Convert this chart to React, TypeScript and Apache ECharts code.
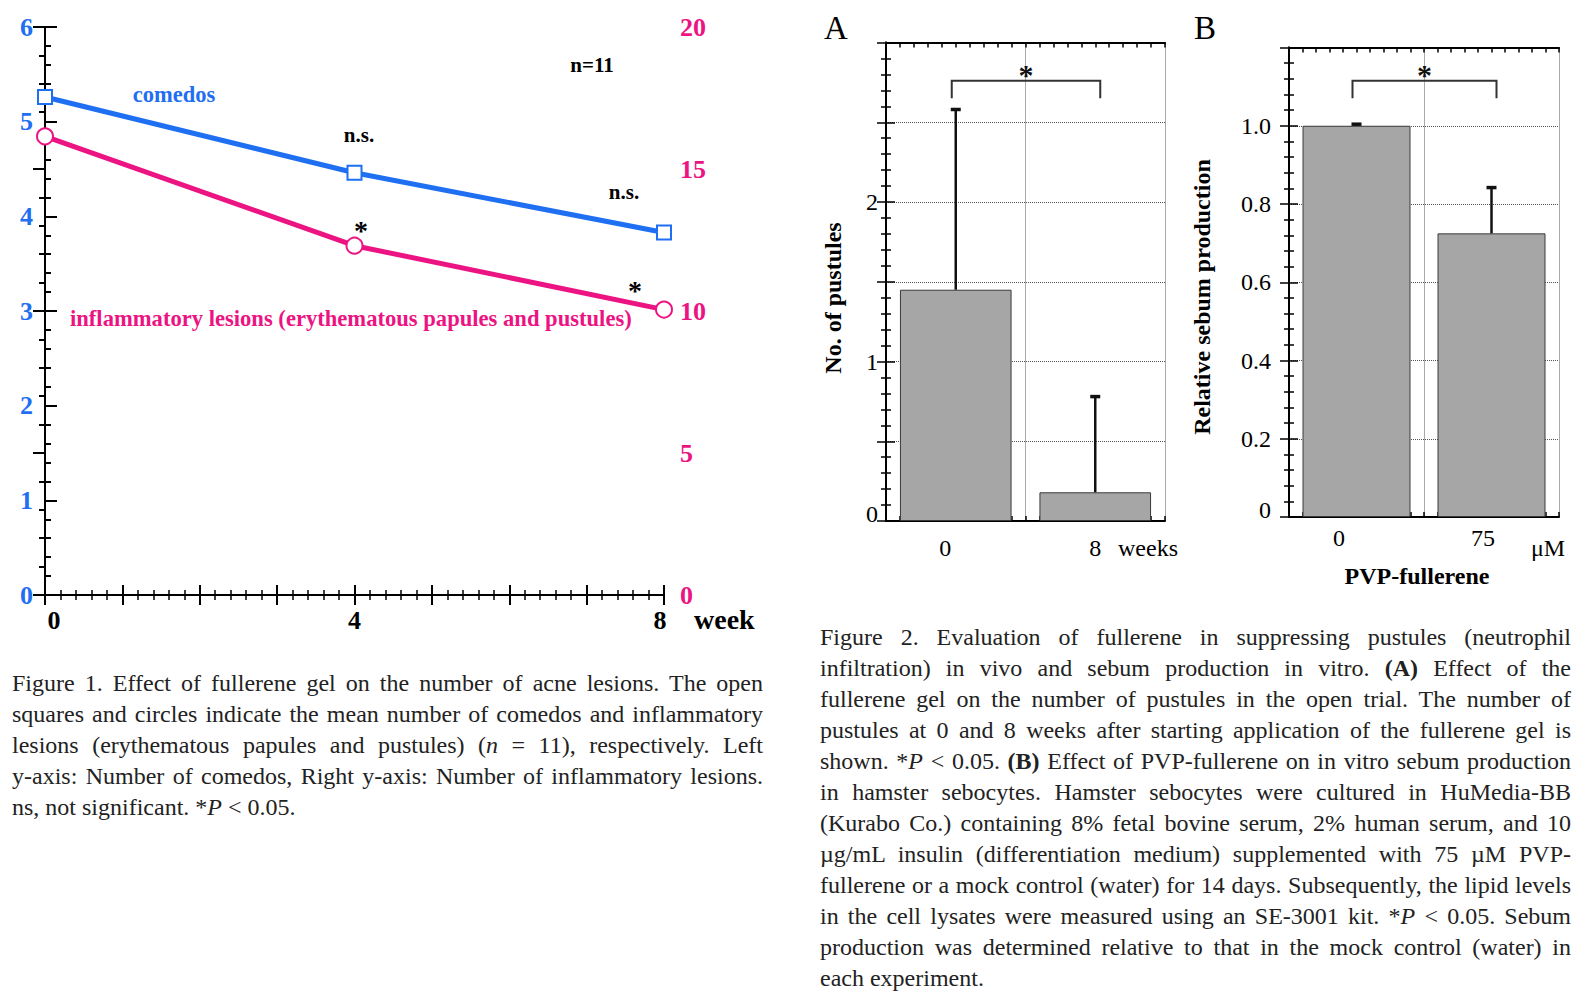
import React, { useEffect, useRef } from "react";
import * as echarts from "echarts";

// ---------- Figure 1 data ----------
const weeks = [0, 4, 8];
const comedoCounts = [5.26, 4.46, 3.83];
const inflammatoryCounts = [16.15, 12.3, 10.05];
const weekTickLabels = [0, 4, 8];

// ---------- Figure 2A data ----------
const pustuleWeeks = ["0", "8"];
const pustuleMeans = [1.45, 0.18];
const pustuleErrTops = [2.58, 0.78];
const pustuleBracket = [2.76, 2.65];

// ---------- Figure 2B data ----------
const sebumDoses = ["0", "75"];
const sebumMeans = [1.0, 0.725];
const sebumErrTops = [1.004, 0.842];
const sebumBracket = [1.115, 1.07];

// ---------- captions ----------
const caption1 = [
  "Figure 1. Effect of fullerene gel on the number of acne lesions. The open",
  "squares and circles indicate the mean number of comedos and inflammatory",
  "lesions (erythematous papules and pustules) ({i:n} = 11), respectively. Left",
  "y-axis: Number of comedos, Right y-axis: Number of inflammatory lesions.",
  "ns, not significant. *{i:P} < 0.05.",
];
const caption2 = [
  "Figure 2. Evaluation of fullerene in suppressing pustules (neutrophil",
  "infiltration) in vivo and sebum production in vitro. {b:(A)} Effect of the",
  "fullerene gel on the number of pustules in the open trial. The number of",
  "pustules at 0 and 8 weeks after starting application of the fullerene gel is",
  "shown. *{i:P} < 0.05. {b:(B)} Effect of PVP-fullerene on in vitro sebum production",
  "in hamster sebocytes. Hamster sebocytes were cultured in HuMedia-BB",
  "(Kurabo Co.) containing 8% fetal bovine serum, 2% human serum, and 10",
  "\u00b5g/mL insulin (differentiation medium) supplemented with 75 \u00b5M PVP-",
  "fullerene or a mock control (water) for 14 days. Subsequently, the lipid levels",
  "in the cell lysates were measured using an SE-3001 kit. *{i:P} < 0.05. Sebum",
  "production was determined relative to that in the mock control (water) in",
  "each experiment.",
];

const SERIF = "'Liberation Serif', 'Times New Roman', serif";
const BLUE = "#1f6ff2";
const PINK = "#ec1482";
const BLACK = "#000";

const frameLine = { show: true, lineStyle: { color: BLACK, width: 2 } };

function ticks(len: number, width: number) {
  return { show: true, inside: true, length: len, lineStyle: { color: BLACK, width } };
}
function minor(len: number, width: number) {
  return { show: true, splitNumber: 5, length: len, lineStyle: { color: BLACK, width } };
}

function txt(text: string, x: number, y: number, o: any = {}) {
  const align = o.align ?? "center";
  return {
    type: "text",
    x,
    y,
    rotation: o.rot ?? 0,
    silent: true,
    style: {
      text,
      fill: o.fill ?? BLACK,
      fontSize: o.size ?? 24,
      fontFamily: SERIF,
      fontWeight: o.bold ? "bold" : "normal",
      align,
      verticalAlign: "middle",
      textAlign: align,
      textVerticalAlign: "middle",
    },
  };
}

function tickAxis(gridIndex: number, position: string, max: number, showLine: boolean) {
  return {
    gridIndex,
    type: "value",
    position,
    min: 0,
    max,
    interval: 1,
    axisLine: { show: showLine, lineStyle: { color: BLACK, width: 2 } },
    axisTick: ticks(5, 1.5),
    axisLabel: { show: false },
    splitLine: { show: false },
  };
}

function errRender(params: any, api: any) {
  const base = api.coord([api.value(0), api.value(1)]);
  const top = api.coord([api.value(0), api.value(2)]);
  return {
    type: "group",
    children: [
      { type: "line", shape: { x1: base[0], y1: base[1], x2: top[0], y2: top[1] }, style: { stroke: "#111", lineWidth: 2.5 } },
      { type: "line", shape: { x1: top[0] - 5, y1: top[1], x2: top[0] + 5, y2: top[1] }, style: { stroke: "#111", lineWidth: 3.5 } },
    ],
  };
}

function bracketRender(params: any, api: any) {
  const a = api.coord([api.value(0), api.value(2)]);
  const b = api.coord([api.value(1), api.value(2)]);
  const d = api.coord([api.value(0), api.value(3)]);
  const x0 = a[0] - 4;
  const x1 = b[0] + 5;
  const y = a[1];
  const yd = d[1];
  return {
    type: "group",
    children: [
      { type: "polyline", shape: { points: [[x0, yd], [x0, y], [x1, y], [x1, yd]] }, style: { stroke: "#333", lineWidth: 2, fill: "none" } },
      {
        type: "text",
        x: (x0 + x1) / 2,
        y: y - 6,
        style: { text: "*", fontSize: 30, fontWeight: "bold", fontFamily: SERIF, fill: "#111", align: "center", verticalAlign: "middle" },
      },
    ],
  };
}

function Caption({ lines, left, top, width }: any) {
  return (
    <div style={{ position: "absolute", left, top, width, fontFamily: SERIF, fontSize: 24, lineHeight: "31px", color: "#222" }}>
      {lines.map((line: string, li: number) => {
        const parts: any[] = [];
        const re = /\{([ib]):([^}]*)\}/g;
        let last = 0;
        let m: any;
        let k = 0;
        while ((m = re.exec(line))) {
          if (m.index > last) parts.push(<span key={k++}>{line.slice(last, m.index)}</span>);
          parts.push(m[1] === "i" ? <i key={k++}>{m[2]}</i> : <b key={k++}>{m[2]}</b>);
          last = m.index + m[0].length;
        }
        if (last < line.length) parts.push(<span key={k++}>{line.slice(last)}</span>);
        const isLast = li === lines.length - 1;
        return (
          <div key={li} style={{ height: 31, textAlign: isLast ? "left" : "justify", textAlignLast: isLast ? "left" : "justify" } as any}>
            {parts}
          </div>
        );
      })}
    </div>
  );
}

export default function App() {
  const ref = useRef<HTMLDivElement>(null);

  useEffect(() => {
    if (!ref.current) return;
    const chart = echarts.init(ref.current, null, { renderer: "svg" });
    const option: any = {
      animation: false,
      backgroundColor: "#fff",
      grid: [
        { left: 45, top: 27, width: 619, height: 568 },
        { left: 886, top: 42.5, width: 279, height: 478.5 },
        { left: 1289, top: 47.5, width: 270, height: 469.5 },
      ],
      xAxis: [
        {
          gridIndex: 0,
          type: "value",
          position: "bottom",
          min: 0,
          max: 8,
          interval: 1,
          axisLine: frameLine,
          axisTick: ticks(10, 2),
          minorTick: minor(5, 1.5),
          splitLine: { show: false },
          axisLabel: {
            show: true,
            margin: 12,
            showMinLabel: true,
            showMaxLabel: true,
            hideOverlap: false,
            fontFamily: SERIF,
            fontWeight: "bold",
            fontSize: 26,
            color: BLACK,
            formatter: (v: number) =>
              weekTickLabels.includes(v) ? (v === 0 ? "{z|0}" : v === 8 ? "{e|8}" : String(v)) : "",
            rich: {
              z: { fontFamily: SERIF, fontWeight: "bold", fontSize: 26, color: BLACK, padding: [0, 0, 0, 18] },
              e: { fontFamily: SERIF, fontWeight: "bold", fontSize: 26, color: BLACK, padding: [0, 8, 0, 0] },
            },
          },
        },
        {
          gridIndex: 0,
          type: "value",
          position: "top",
          min: 0,
          max: 8,
          interval: 1,
          axisLine: frameLine,
          axisTick: ticks(10, 2),
          minorTick: minor(5, 1.5),
          splitLine: { show: false },
          axisLabel: { show: false },
        },
        // Fig 2A
        {
          gridIndex: 1,
          type: "category",
          data: pustuleWeeks,
          boundaryGap: true,
          axisLine: frameLine,
          axisTick: { show: false },
          splitLine: { show: true, lineStyle: { type: "dotted", color: "#555", width: 1 } },
          axisLabel: {
            margin: 15,
            fontFamily: SERIF,
            fontSize: 24,
            color: BLACK,
            formatter: (v: string, i: number) => `{c${i}|${v}}`,
            rich: {
              c0: { fontFamily: SERIF, fontSize: 24, color: BLACK, padding: [0, 21, 0, 0] },
              c1: { fontFamily: SERIF, fontSize: 24, color: BLACK },
            },
          },
        },
        tickAxis(1, "bottom", 20, false),
        tickAxis(1, "top", 20, true),
        // Fig 2B
        {
          gridIndex: 2,
          type: "category",
          data: sebumDoses,
          boundaryGap: true,
          axisLine: frameLine,
          axisTick: { show: false },
          splitLine: { show: true, lineStyle: { type: "dotted", color: "#555", width: 1 } },
          axisLabel: {
            margin: 9,
            fontFamily: SERIF,
            fontSize: 24,
            color: BLACK,
            formatter: (v: string, i: number) => `{c${i}|${v}}`,
            rich: {
              c0: { fontFamily: SERIF, fontSize: 24, color: BLACK, padding: [0, 35, 0, 0] },
              c1: { fontFamily: SERIF, fontSize: 24, color: BLACK, padding: [0, 17, 0, 0] },
            },
          },
        },
        tickAxis(2, "bottom", 20, false),
        tickAxis(2, "top", 20, true),
      ],
      yAxis: [
        {
          gridIndex: 0,
          type: "value",
          position: "left",
          min: 0,
          max: 6,
          interval: 1,
          axisLine: frameLine,
          axisTick: ticks(12, 2),
          minorTick: minor(6, 2),
          splitLine: { show: false },
          axisLabel: { color: BLUE, fontWeight: "bold", fontSize: 26, fontFamily: SERIF, margin: 12 },
        },
        {
          gridIndex: 0,
          type: "value",
          position: "right",
          min: 0,
          max: 20,
          interval: 5,
          axisLine: frameLine,
          axisTick: ticks(12, 2),
          minorTick: minor(6, 2),
          splitLine: { show: false },
          axisLabel: { color: PINK, fontWeight: "bold", fontSize: 26, fontFamily: SERIF, margin: 16 },
        },
        // Fig 2A
        {
          gridIndex: 1,
          type: "value",
          position: "left",
          min: 0,
          max: 3,
          interval: 0.5,
          axisLine: frameLine,
          axisTick: ticks(9, 1.5),
          minorTick: minor(5, 1.5),
          splitLine: { show: true, lineStyle: { type: "dotted", color: "#555", width: 1 } },
          axisLabel: {
            margin: 8,
            fontFamily: SERIF,
            fontSize: 24,
            color: BLACK,
            showMinLabel: true,
            formatter: (v: number) => (v === 0 ? "{z|0}" : v === 1 || v === 2 ? String(v) : ""),
            rich: { z: { fontFamily: SERIF, fontSize: 24, color: BLACK, padding: [0, 0, 14, 0] } },
          },
        },
        {
          gridIndex: 1,
          type: "value",
          position: "right",
          min: 0,
          max: 3,
          interval: 0.5,
          axisLine: frameLine,
          axisTick: ticks(9, 1.5),
          minorTick: minor(5, 1.5),
          splitLine: { show: false },
          axisLabel: { show: false },
        },
        // Fig 2B
        {
          gridIndex: 2,
          type: "value",
          position: "left",
          min: 0,
          max: 1.2,
          interval: 0.2,
          axisLine: frameLine,
          axisTick: ticks(9, 1.5),
          minorTick: minor(5, 1.5),
          splitLine: { show: true, lineStyle: { type: "dotted", color: "#555", width: 1 } },
          axisLabel: {
            margin: 18,
            fontFamily: SERIF,
            fontSize: 24,
            color: BLACK,
            showMinLabel: true,
            formatter: (v: number) => (v === 0 ? "{z|0}" : v > 1.1 ? "" : v.toFixed(1)),
            rich: { z: { fontFamily: SERIF, fontSize: 24, color: BLACK, padding: [0, 0, 14, 0] } },
          },
        },
        {
          gridIndex: 2,
          type: "value",
          position: "right",
          min: 0,
          max: 1.2,
          interval: 0.2,
          axisLine: frameLine,
          axisTick: ticks(9, 1.5),
          minorTick: minor(5, 1.5),
          splitLine: { show: false },
          axisLabel: { show: false },
        },
      ],
      series: [
        {
          type: "line",
          xAxisIndex: 0,
          yAxisIndex: 0,
          data: weeks.map((w, i) => [w, comedoCounts[i]]),
          symbol: "rect",
          symbolSize: 14,
          clip: false,
          lineStyle: { color: BLUE, width: 5 },
          itemStyle: { color: "#fff", borderColor: BLUE, borderWidth: 2 },
          z: 5,
        },
        {
          type: "line",
          xAxisIndex: 0,
          yAxisIndex: 1,
          data: weeks.map((w, i) => [w, inflammatoryCounts[i]]),
          symbol: "circle",
          symbolSize: 16,
          clip: false,
          lineStyle: { color: PINK, width: 5 },
          itemStyle: { color: "#fff", borderColor: PINK, borderWidth: 2 },
          z: 5,
        },
        {
          type: "bar",
          xAxisIndex: 2,
          yAxisIndex: 2,
          data: pustuleMeans,
          barWidth: "80%",
          itemStyle: { color: "#a6a6a6", borderColor: "#3a3a3a", borderWidth: 1 },
        },
        {
          type: "custom",
          xAxisIndex: 2,
          yAxisIndex: 2,
          data: pustuleMeans.map((m, i) => [i, m, pustuleErrTops[i]]),
          renderItem: errRender,
          z: 6,
        },
        {
          type: "custom",
          xAxisIndex: 2,
          yAxisIndex: 2,
          data: [[0, 1, pustuleBracket[0], pustuleBracket[1]]],
          renderItem: bracketRender,
          z: 6,
        },
        {
          type: "bar",
          xAxisIndex: 5,
          yAxisIndex: 4,
          data: sebumMeans,
          barWidth: "80%",
          itemStyle: { color: "#a6a6a6", borderColor: "#3a3a3a", borderWidth: 1 },
        },
        {
          type: "custom",
          xAxisIndex: 5,
          yAxisIndex: 4,
          data: sebumMeans.map((m, i) => [i, m, sebumErrTops[i]]),
          renderItem: errRender,
          z: 6,
        },
        {
          type: "custom",
          xAxisIndex: 5,
          yAxisIndex: 4,
          data: [[0, 1, sebumBracket[0], sebumBracket[1]]],
          renderItem: bracketRender,
          z: 6,
        },
      ],
      graphic: [
        txt("comedos", 174, 94, { bold: true, size: 22.5, fill: BLUE }),
        txt("n.s.", 359, 135, { bold: true, size: 21 }),
        txt("n=11", 592, 65, { bold: true, size: 21 }),
        txt("n.s.", 624, 192, { bold: true, size: 21 }),
        txt("*", 361, 230, { bold: true, size: 28 }),
        txt("*", 635, 290, { bold: true, size: 28 }),
        txt("inflammatory lesions (erythematous papules and pustules)", 70, 318, { bold: true, size: 22.6, fill: PINK, align: "left" }),
        txt("week", 694, 619, { bold: true, size: 28, align: "left" }),
        txt("A", 836, 28, { size: 33 }),
        txt("B", 1205, 28, { size: 33 }),
        txt("No. of pustules", 833, 298, { bold: true, size: 24, rot: Math.PI / 2 }),
        txt("weeks", 1118, 548, { size: 24, align: "left" }),
        txt("Relative sebum production", 1202, 297, { bold: true, size: 24, rot: Math.PI / 2 }),
        txt("\u03bcM", 1548, 548, { size: 24 }),
        txt("PVP-fullerene", 1417, 576, { bold: true, size: 24 }),
      ],
    };
    chart.setOption(option);
    return () => chart.dispose();
  }, []);

  return (
    <div style={{ position: "fixed", left: 0, top: 0, width: 1587, height: 1004, background: "#fff", overflow: "hidden" }}>
      <div ref={ref} style={{ position: "absolute", left: 0, top: 0, width: 1587, height: 1004 }} />
      <Caption lines={caption1} left={12} top={668} width={751} />
      <Caption lines={caption2} left={820} top={622} width={751} />
    </div>
  );
}
